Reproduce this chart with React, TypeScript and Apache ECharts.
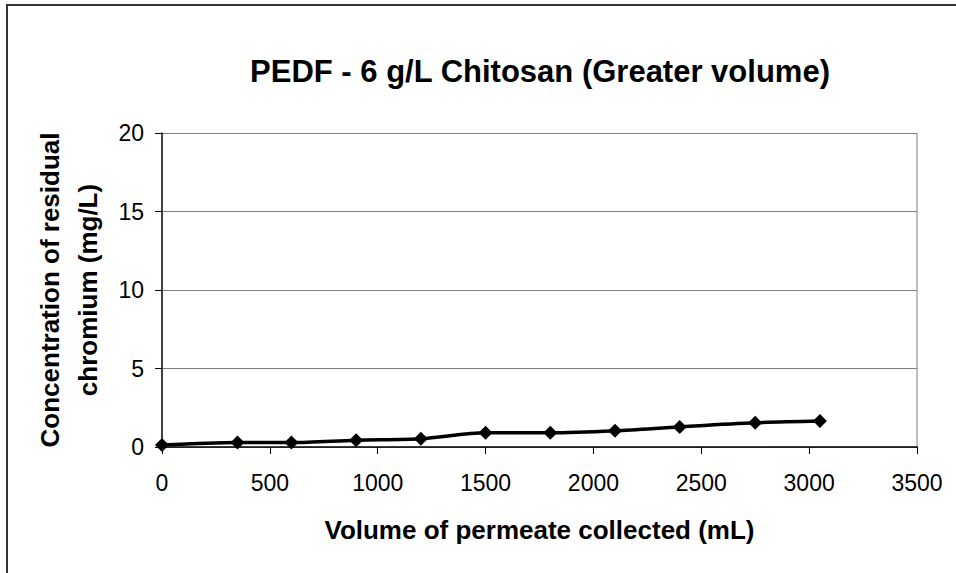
import React, { useEffect, useRef } from "react";
import * as echarts from "echarts";

const volumes = [0, 350, 600, 900, 1200, 1500, 1800, 2100, 2400, 2750, 3050];
const concentrations = [0.12, 0.28, 0.28, 0.43, 0.52, 0.9, 0.9, 1.03, 1.28, 1.54, 1.65];
const titleText = "PEDF - 6 g/L Chitosan (Greater volume)";
const xName = "Volume of permeate collected (mL)";
const yName = "Concentration of residual\nchromium (mg/L)";

export default function App() {
  const ref = useRef<HTMLDivElement>(null);
  useEffect(() => {
    document.body.style.margin = "0";
    const chart = echarts.init(ref.current!, null, { renderer: "svg" });
    const font = "'Liberation Sans', Arial, sans-serif";
    chart.setOption({
      animation: false,
      backgroundColor: "#ffffff",
      title: {
        text: titleText,
        left: 535,
        top: 51,
        textAlign: "center",
        textStyle: { fontFamily: font, fontSize: 31, fontWeight: "bold", color: "#000" },
      },
      grid: { left: 162, right: 39, top: 133, bottom: 126 },
      xAxis: {
        type: "value",
        min: 0,
        max: 3500,
        interval: 500,
        name: xName,
        nameLocation: "middle",
        nameGap: 70,
        nameTextStyle: { fontFamily: font, fontSize: 26, fontWeight: "bold", color: "#000" },
        axisLine: { show: true, onZero: false, lineStyle: { color: "#000", width: 1.5 } },
        axisTick: { show: true, inside: false, length: 7, lineStyle: { color: "#000" } },
        axisLabel: {
          fontFamily: font,
          fontSize: 23,
          color: "#000",
          margin: 24,
          formatter: (v: number) => String(v),
        },
        splitLine: { show: false },
      },
      yAxis: {
        type: "value",
        min: 0,
        max: 20,
        interval: 5,
        name: yName,
        nameLocation: "middle",
        nameGap: 55,
        nameTextStyle: { fontFamily: font, fontSize: 26, fontWeight: "bold", color: "#000", lineHeight: 38 },
        axisLine: { show: true, lineStyle: { color: "#000", width: 1.5 } },
        axisTick: { show: true, inside: false, length: 7, lineStyle: { color: "#000" } },
        axisLabel: { fontFamily: font, fontSize: 23, color: "#000", margin: 18 },
        splitLine: { show: true, lineStyle: { color: "#808080", width: 1 } },
      },
      graphic: [
        {
          type: "polyline",
          shape: { points: [[7, 573], [7, 5], [956, 5]] },
          style: { stroke: "#333", lineWidth: 2, fill: "none" },
          silent: true,
        },
        {
          type: "line",
          shape: { x1: 917, y1: 133, x2: 917, y2: 447 },
          style: { stroke: "#808080", lineWidth: 1 },
          silent: true,
        },
      ],
      series: [
        {
          type: "line",
          data: volumes.map((v, i) => [v, concentrations[i]]),
          smooth: 0.3,
          symbol: "diamond",
          symbolSize: 14,
          itemStyle: { color: "#000" },
          lineStyle: { color: "#000", width: 3.5 },
        },
      ],
    });
    return () => chart.dispose();
  }, []);
  return <div ref={ref} style={{ width: 956, height: 573 }} />;
}
